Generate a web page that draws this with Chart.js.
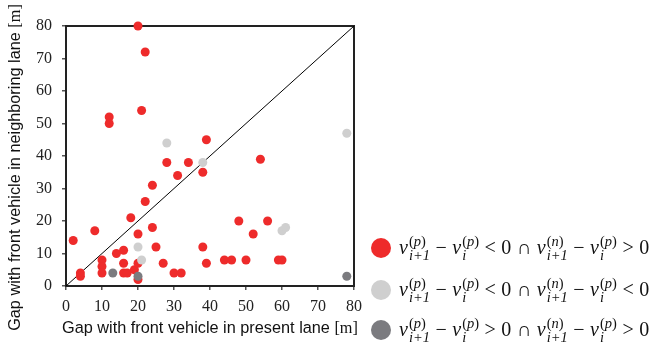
<!DOCTYPE html>
<html><head><meta charset="utf-8">
<script src="https://cdn.jsdelivr.net/npm/chart.js@4.4.0/dist/chart.umd.min.js"></script>
<style>
html,body{margin:0;padding:0;background:#fff;}
#wrap{position:relative;width:654px;height:349px;}
canvas{position:absolute;left:0;top:0;}
.leg{position:absolute;left:371px;font-family:"Liberation Serif",serif;font-size:20px;color:#111;white-space:nowrap;}
.leg .dot{display:inline-block;width:20px;height:20px;border-radius:50%;vertical-align:middle;margin-right:8px;position:relative;top:-2px;}
.leg i{font-style:italic;}
.op{margin:0 5.5px;}
.ss{display:inline-flex;flex-direction:column;vertical-align:middle;font-size:14.5px;line-height:13.5px;position:relative;top:-1px;margin-left:1px;}
</style></head>
<body><div id="wrap"><canvas id="c" width="654" height="349"></canvas>
<div class="leg" id="l1" style="top:236px"></div>
<div class="leg" id="l2" style="top:278px"></div>
<div class="leg" id="l3" style="top:318px"></div>
</div>
<script>
const xTicks = [0,10,20,30,40,50,60,70,80];
const yTicks = [0,10,20,30,40,50,60,70,80];
const redX = [20,22,21,12,12,39,28,34,54,38,31,24,22,18,8,2,24,20,25,48,56,52,38,14,16,10,10,10,4,4,16,16,17,19,20,20,27,30,32,39,44,46,50,59,60];
const redY = [80,72,54,52,50,45,38,38,39,35,34,31,26,21,17,14,18,16,12,20,20,16,12,10,11,8,6,4,4,3,7,4,4,5,7,2,7,4,4,7,8,8,8,8,8];
const lightX = [28,38,20,21,60,61,78];
const lightY = [44,38,12,8,17,18,47];
const darkX = [13,20,78];
const darkY = [4,3,3];
const diagX = [0,80];
const diagY = [0,80];
const legendRows = [["<",">"],["<","<"],[">",">"]];
const colors = {red:"#ee2b2b", light:"#cfcfcf", dark:"#7b7b7f"};

function pts(xs,ys){return xs.map((x,i)=>({x:x,y:ys[i]}));}

function vterm(sub,sup){
  return '<i>v</i><span class="ss"><span>(<i>'+sup+'</i>)</span><span><i>'+sub+'</i></span></span>';
}
const dotCols=[colors.red,colors.light,colors.dark];
legendRows.forEach((r,k)=>{
  const el=document.getElementById('l'+(k+1));
  el.innerHTML='<span class="dot" style="background:'+dotCols[k]+'"></span>'+
   vterm('i+1','p')+'<span class="op">−</span>'+vterm('i','p')+'<span class="op">'+r[0]+'</span>0<span class="op">∩</span>'+
   vterm('i+1','n')+'<span class="op">−</span>'+vterm('i','p')+'<span class="op">'+r[1]+'</span>0';
});

const frame = {
  id:'frame',
  beforeDatasetsDraw(chart){
    const a=chart.chartArea, ctx=chart.ctx;
    ctx.save();
    ctx.strokeStyle='#222';ctx.lineWidth=2;
    ctx.strokeRect(a.left,a.top,a.right-a.left,a.bottom-a.top);
    ctx.restore();
  },
  afterDraw(chart){
    const a=chart.chartArea, ctx=chart.ctx;
    function mixed(sans,serif,cx,cy,rot){
      ctx.save();
      ctx.translate(cx,cy); if(rot) ctx.rotate(-Math.PI/2);
      ctx.fillStyle='#111';ctx.textBaseline='middle';
      ctx.font='16.3px "Liberation Sans"';
      const w1=ctx.measureText(sans).width;
      ctx.font='16.3px "Liberation Serif"';
      const w2=ctx.measureText(serif).width;
      let x=-(w1+w2)/2;
      ctx.font='16.3px "Liberation Sans"';ctx.fillText(sans,x,0);
      ctx.font='16.3px "Liberation Serif"';ctx.fillText(serif,x+w1,0);
      ctx.restore();
    }
    mixed('Gap with front vehicle in present lane ','[m]',(a.left+a.right)/2,329,false);
    mixed('Gap with front vehicle in neighboring lane ','[m]',15.5,167.5,true);
  }
};

const ptStyle = c=>({backgroundColor:c,borderColor:c,pointRadius:4.5,pointHoverRadius:4.5,borderWidth:0,clip:false});

new Chart(document.getElementById('c'),{
  type:'scatter',
  data:{datasets:[
    Object.assign({label:'dark',data:pts(darkX,darkY)},ptStyle(colors.dark)),
    Object.assign({label:'light',data:pts(lightX,lightY)},ptStyle(colors.light)),
    Object.assign({label:'red',data:pts(redX,redY)},ptStyle(colors.red)),
    {label:'diag',data:pts(diagX,diagY),showLine:true,borderColor:'#000',borderWidth:1,pointRadius:0,fill:false}
  ]},
  options:{
    responsive:false,animation:false,
    layout:{padding:{top:26,right:300,left:0,bottom:0}},
    plugins:{legend:{display:false},tooltip:{enabled:false}},
    scales:{
      x:{type:'linear',min:0,max:80,
        afterBuildTicks(s){s.ticks=xTicks.map(v=>({value:v}));},
        afterFit(s){s.height=63;},
        grid:{drawOnChartArea:false,drawTicks:true,tickLength:4,color:'#555',lineWidth:1.5},
        border:{display:false},
        ticks:{font:{family:'"Liberation Serif"',size:16},color:'#222',padding:7,maxRotation:0}
      },
      y:{type:'linear',min:0,max:80,
        afterBuildTicks(s){s.ticks=yTicks.map(v=>({value:v}));},
        afterFit(s){s.width=66;},
        grid:{drawOnChartArea:false,drawTicks:true,tickLength:4,color:'#555',lineWidth:1.5},
        border:{display:false},
        ticks:{font:{family:'"Liberation Serif"',size:16},color:'#222',padding:10}
      }
    }
  },
  plugins:[frame]
});
</script></body></html>
